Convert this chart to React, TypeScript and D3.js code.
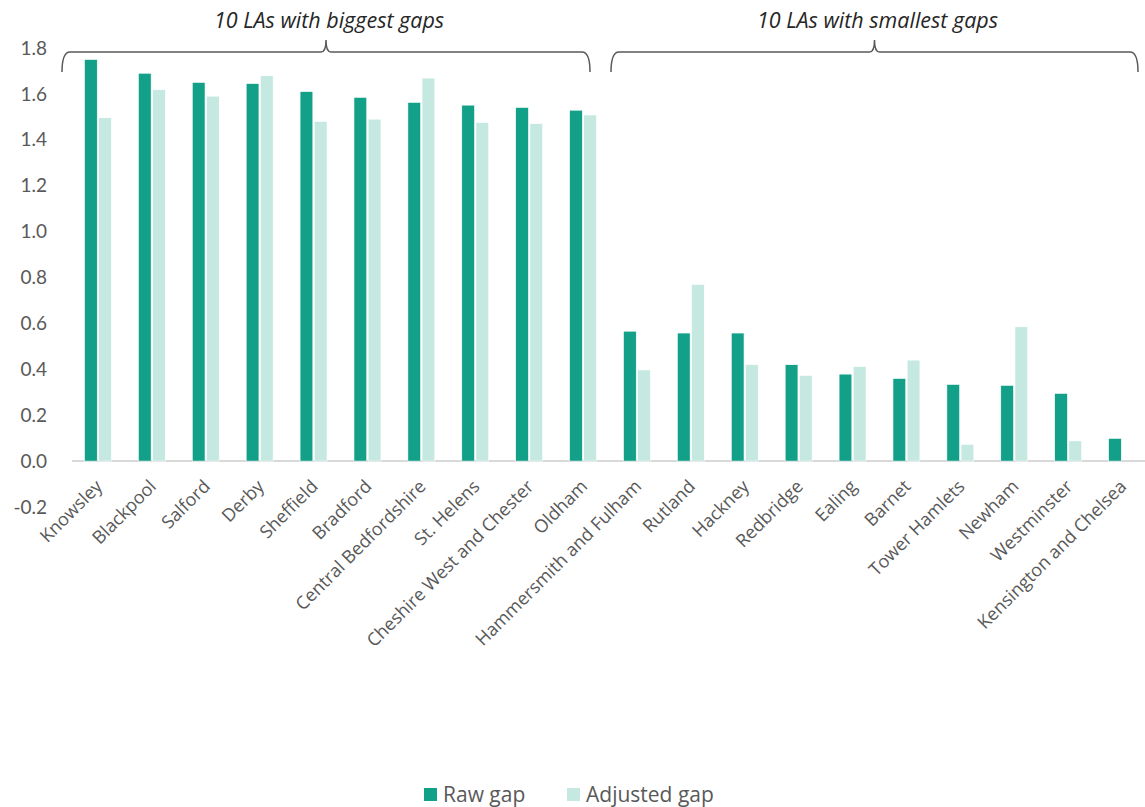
import React from "react";
import * as d3 from "d3";

const categories = [
  "Knowsley", "Blackpool", "Salford", "Derby", "Sheffield", "Bradford",
  "Central Bedfordshire", "St. Helens", "Cheshire West and Chester", "Oldham",
  "Hammersmith and Fulham", "Rutland", "Hackney", "Redbridge", "Ealing",
  "Barnet", "Tower Hamlets", "Newham", "Westminster", "Kensington and Chelsea",
];
const rawGap = [1.75, 1.69, 1.65, 1.645, 1.61, 1.585, 1.563, 1.551, 1.541, 1.529,
  0.566, 0.558, 0.558, 0.42, 0.379, 0.36, 0.334, 0.33, 0.295, 0.099];
const adjustedGap = [1.496, 1.618, 1.59, 1.679, 1.48, 1.49, 1.669, 1.475, 1.47, 1.508,
  0.397, 0.77, 0.42, 0.373, 0.412, 0.44, 0.073, 0.585, 0.088, 0];
const yTicks = [-0.2, 0, 0.2, 0.4, 0.6, 0.8, 1.0, 1.2, 1.4, 1.6, 1.8];
const seriesNames = ["Raw gap", "Adjusted gap"];
const groupLabels = ["10 LAs with biggest gaps", "10 LAs with smallest gaps"];

const W = 1145, H = 807;
const RAW = "#13A088";
const ADJ = "#C5E8E1";
const TXT = "#595959";
const FONT = "Lato, 'Open Sans', sans-serif";
const FONT2 = "'Open Sans', Lato, sans-serif";

export default function App() {
  const x = d3.scaleBand<string>().domain(categories).range([71, 1149]).paddingInner(0.5).paddingOuter(0.25);
  const xs = d3.scaleBand<string>().domain(seriesNames).range([0, x.bandwidth()]).paddingInner(0.1);
  const y = d3.scaleLinear().domain([-0.2, 1.8]).range([507, 48]);
  const step = x.step();
  const bound = (i: number) => 71 + i * step;
  const y0 = y(0);
  const fmt = (t: number) => d3.format(".1f")(t).replace("\u2212", "-");

  const brackets = [
    { x0: bound(0) - 9, x1: bound(10) - 20, label: groupLabels[0] },
    { x0: bound(10) + 1, x1: bound(20) - 11, label: groupLabels[1] },
  ];
  const by = 52, bEnd = 72, r = 8;

  return (
    <div style={{ position: "absolute", left: 0, top: 0 }}>
      <svg width={W} height={H} style={{ display: "block", background: "#fff" }} fontFamily={FONT}>
        {/* y tick labels */}
        {yTicks.map((t) => (
          <text key={t} x={47} y={y(t)} dy="0.35em" textAnchor="end" fontSize={19} fill={TXT}>
            {fmt(t)}
          </text>
        ))}
        {/* baseline */}
        <line x1={72} x2={W} y1={y0} y2={y0} stroke="#d9d9d9" strokeWidth={2} />
        {/* bars */}
        {categories.map((c, i) => (
          <g key={c} transform={`translate(${x(c)},0)`}>
            <rect x={xs("Raw gap")} width={xs.bandwidth()} y={y(Math.max(0, rawGap[i]))}
              height={Math.abs(y(rawGap[i]) - y0)} fill={RAW} stroke="#fff" strokeWidth={0.6} />
            {adjustedGap[i] !== 0 && (
              <rect x={xs("Adjusted gap")} width={xs.bandwidth()} y={y(Math.max(0, adjustedGap[i]))}
                height={Math.abs(y(adjustedGap[i]) - y0)} fill={ADJ} stroke="#fff" strokeWidth={0.6} />
            )}
          </g>
        ))}
        {/* category labels */}
        {categories.map((c) => {
          const cx = (x(c) as number) + x.bandwidth() / 2;
          return (
            <text key={c} transform={`translate(${cx + 1},${y0 + 22}) rotate(-45)`} textAnchor="end"
              dy="0.35em" fontSize={18} fill={TXT} fontFamily={FONT2}>
              {c}
            </text>
          );
        })}
        {/* brackets */}
        {brackets.map((b) => {
          const cx = (b.x0 + b.x1) / 2;
          const d = `M${b.x0},${bEnd} Q${b.x0},${by} ${b.x0 + r},${by} L${cx - 5},${by} Q${cx},${by} ${cx},${by - 12} Q${cx},${by} ${cx + 5},${by} L${b.x1 - r},${by} Q${b.x1},${by} ${b.x1},${bEnd}`;
          return (
            <g key={b.label}>
              <path d={d} fill="none" stroke="#595959" strokeWidth={1.5} />
              <text x={cx + 3} y={28} textAnchor="middle" fontSize={21.5} fontStyle="italic" fill="#262626" fontFamily={FONT2}>
                {b.label}
              </text>
            </g>
          );
        })}
        {/* legend */}
        <g fontFamily={FONT2}>
          <rect x={424} y={788} width={13} height={13} fill={RAW} />
          <text x={443} y={802} fontSize={21} fill={TXT}>{seriesNames[0]}</text>
          <rect x={567} y={788} width={13} height={13} fill={ADJ} />
          <text x={586} y={802} fontSize={21} fill={TXT}>{seriesNames[1]}</text>
        </g>
      </svg>
    </div>
  );
}
